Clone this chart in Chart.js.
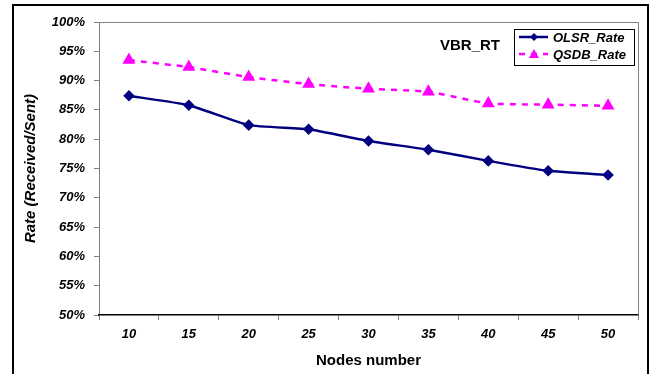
<!DOCTYPE html>
<html>
<head>
<meta charset="utf-8">
<script src="https://cdn.jsdelivr.net/npm/chart.js@4"></script>
<style>
  html, body { margin: 0; padding: 0; background: #fff; }
  #wrap { width: 653px; height: 374px; }
</style>
</head>
<body>
<div id="wrap"><canvas id="rateChart" width="653" height="374"></canvas></div>
<script>
const nodes = ["10", "15", "20", "25", "30", "35", "40", "45", "50"];
const olsrRate = [87.4, 85.8, 82.4, 81.7, 79.7, 78.2, 76.3, 74.6, 73.9];
const qsdbRate = [93.5, 92.3, 90.6, 89.4, 88.6, 88.1, 86.1, 85.9, 85.7];
const yTicks = [50, 55, 60, 65, 70, 75, 80, 85, 90, 95, 100];
const chartLabel = "VBR_RT";

const FONT = "Liberation Sans, Arial, sans-serif";

// cadre noir + bordure grise du graphe + texte VBR_RT + légende
const decorPlugin = {
  id: "decor",
  afterDraw(chart) {
    const ctx = chart.ctx;
    const a = chart.chartArea;
    ctx.save();

    // bordure grise haut / droite
    ctx.strokeStyle = "#808080";
    ctx.lineWidth = 1;
    ctx.beginPath();
    ctx.moveTo(a.left, a.top + 0.5);
    ctx.lineTo(a.right + 0.5, a.top + 0.5);
    ctx.lineTo(a.right + 0.5, a.bottom);
    ctx.stroke();

    // cadre extérieur
    ctx.strokeStyle = "#000";
    ctx.lineWidth = 2;
    ctx.beginPath();
    ctx.moveTo(13, 380);
    ctx.lineTo(13, 5);
    ctx.lineTo(648, 5);
    ctx.lineTo(648, 380);
    ctx.stroke();

    // titre interne
    ctx.fillStyle = "#000";
    ctx.font = "bold 15px " + FONT;
    ctx.textAlign = "right";
    ctx.textBaseline = "middle";
    ctx.fillText(chartLabel, 500, 46);

    // légende
    const lx = 514, ly = 29, lw = 120, lh = 36;
    ctx.fillStyle = "#fff";
    ctx.fillRect(lx, ly, lw, lh);
    ctx.strokeStyle = "#000";
    ctx.lineWidth = 1;
    ctx.strokeRect(lx + 0.5, ly + 0.5, lw, lh);

    chart.data.datasets.forEach((ds, i) => {
      const y = ly + 8 + i * 17;
      ctx.strokeStyle = ds.borderColor;
      ctx.lineWidth = ds.borderWidth;
      ctx.setLineDash(ds.borderDash || []);
      ctx.beginPath();
      ctx.moveTo(lx + 5, y);
      ctx.lineTo(lx + 34, y);
      ctx.stroke();
      ctx.setLineDash([]);
      // marqueur
      ctx.fillStyle = ds.pointBackgroundColor;
      ctx.beginPath();
      const cx = lx + 20;
      if (ds.pointStyle === "triangle") {
        ctx.moveTo(cx, y - 5);
        ctx.lineTo(cx + 5, y + 4);
        ctx.lineTo(cx - 5, y + 4);
      } else {
        ctx.moveTo(cx, y - 4);
        ctx.lineTo(cx + 4, y);
        ctx.lineTo(cx, y + 4);
        ctx.lineTo(cx - 4, y);
      }
      ctx.closePath();
      ctx.fill();

      ctx.fillStyle = "#000";
      ctx.font = "italic bold 13px " + FONT;
      ctx.textAlign = "left";
      ctx.textBaseline = "middle";
      ctx.fillText(ds.label, lx + 39, y + 1);
    });

    ctx.restore();
  },
};

const ctx = document.getElementById("rateChart").getContext("2d");

const rateChart = new Chart(ctx, {
  type: "line",
  data: {
    labels: nodes,
    datasets: [
      {
        label: "OLSR_Rate",
        data: olsrRate,
        borderColor: "#000080",
        backgroundColor: "#000080",
        pointBackgroundColor: "#000080",
        pointBorderColor: "#000080",
        pointStyle: "rectRot",
        pointRadius: 4,
        borderWidth: 2.5,
        tension: 0.15,
      },
      {
        label: "QSDB_Rate",
        data: qsdbRate,
        borderColor: "#FF00FF",
        backgroundColor: "#FF00FF",
        pointBackgroundColor: "#FF00FF",
        pointBorderColor: "#FF00FF",
        pointStyle: "triangle",
        pointRadius: 5,
        borderWidth: 2.5,
        borderDash: [6, 6],
        tension: 0.15,
      },
    ],
  },
  options: {
    responsive: false,
    animation: false,
    layout: {
      padding: { left: 14, top: 22, right: 15, bottom: 0 },
    },
    scales: {
      y: {
        min: 50,
        max: 100,
        afterBuildTicks: (scale) => {
          scale.ticks = yTicks.map((v) => ({ value: v }));
        },
        afterFit: (scale) => {
          scale.width = 85;
        },
        border: { display: true, color: "#808080", width: 1 },
        grid: {
          drawOnChartArea: false,
          drawTicks: true,
          tickLength: 5,
          color: "#808080",
        },
        ticks: {
          color: "#000",
          padding: 9,
          font: { family: FONT, size: 13, weight: "bold", style: "italic" },
          callback: (v) => v + "%",
        },
        title: {
          display: true,
          text: "Rate (Received/Sent)",
          color: "#000",
          padding: { top: 8, bottom: 8 },
          font: { family: FONT, size: 15, weight: "bold", style: "italic" },
        },
      },
      x: {
        offset: true,
        afterFit: (scale) => {
          scale.height = 59;
        },
        border: { display: true, color: "#000", width: 1.5 },
        grid: {
          offset: true,
          drawOnChartArea: false,
          drawTicks: true,
          tickLength: 5,
          color: "#808080",
        },
        ticks: {
          color: "#000",
          padding: 7,
          font: { family: FONT, size: 13, weight: "bold", style: "italic" },
        },
        title: {
          display: true,
          text: "Nodes number",
          color: "#000",
          padding: { top: 6 },
          font: { family: FONT, size: 15, weight: "bold" },
        },
      },
    },
    plugins: {
      legend: { display: false },
      tooltip: { enabled: false },
    },
  },
  plugins: [decorPlugin],
});
</script>
</body>
</html>
